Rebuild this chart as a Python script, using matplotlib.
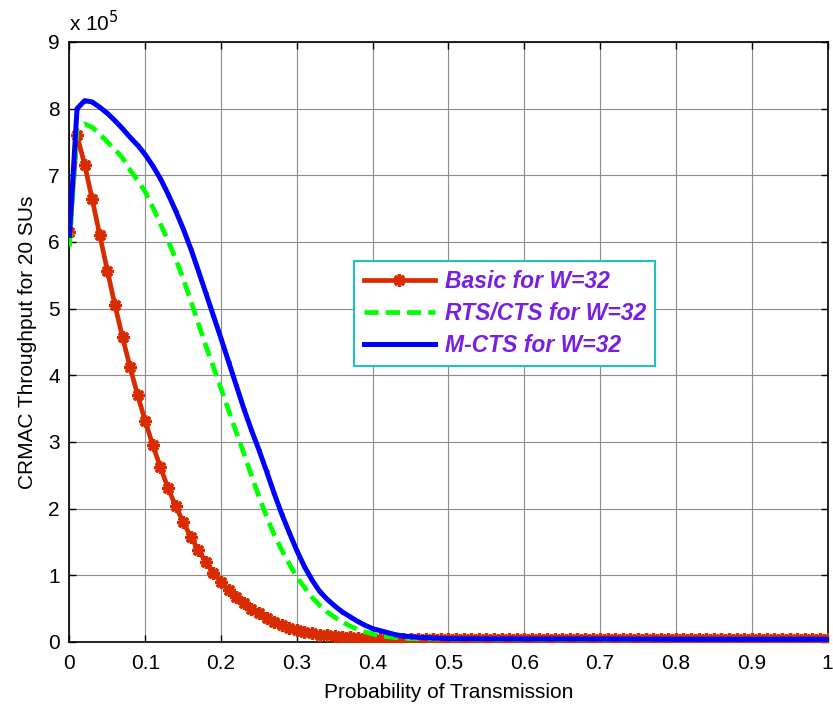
import numpy as np
import matplotlib
matplotlib.use("Agg")
import matplotlib.pyplot as plt
from matplotlib.ticker import FuncFormatter

plt.rcParams['font.family'] = ['Liberation Sans', 'DejaVu Sans']

# throughput values in units of 1e5
x_basic = np.round(np.arange(0, 1.001, 0.01), 2)
basic = [6.15, 7.60, 7.16, 6.64, 6.10, 5.57, 5.05, 4.57, 4.12, 3.70,
         3.31, 2.95, 2.62, 2.31, 2.04, 1.80, 1.58, 1.38, 1.20, 1.04,
         0.90, 0.78, 0.67, 0.58, 0.50, 0.43, 0.36, 0.30, 0.25, 0.21,
         0.18, 0.15, 0.13, 0.11, 0.10, 0.09, 0.08, 0.07, 0.06, 0.055,
         0.05, 0.05, 0.045, 0.045, 0.04, 0.04, 0.04, 0.04, 0.04, 0.04,
         0.04, 0.04, 0.04, 0.04, 0.04, 0.04, 0.04, 0.04, 0.04, 0.04,
         0.04, 0.04, 0.04, 0.04, 0.04, 0.04, 0.04, 0.04, 0.04, 0.04,
         0.04, 0.04, 0.04, 0.04, 0.04, 0.04, 0.04, 0.04, 0.04, 0.04,
         0.04, 0.04, 0.04, 0.04, 0.04, 0.04, 0.04, 0.04, 0.04, 0.04,
         0.04, 0.04, 0.04, 0.04, 0.04, 0.04, 0.04, 0.04, 0.04, 0.04,
         0.04]

x_rts = [0.00, 0.01, 0.02, 0.03, 0.04, 0.05, 0.06, 0.07, 0.08, 0.09,
         0.10, 0.11, 0.12, 0.13, 0.14, 0.15, 0.16, 0.17, 0.18, 0.19,
         0.20, 0.21, 0.22, 0.23, 0.24, 0.25, 0.26, 0.27, 0.28, 0.29,
         0.30, 0.31, 0.32, 0.33, 0.34, 0.35, 0.36, 0.37, 0.38, 0.39,
         0.40, 0.41, 0.42, 0.43, 0.44, 0.45, 0.50, 0.60, 0.70, 0.80,
         0.90, 1.00]
rts = [5.93, 7.72, 7.77, 7.72, 7.62, 7.50, 7.39, 7.26, 7.08, 6.92,
       6.75, 6.52, 6.27, 6.02, 5.75, 5.45, 5.12, 4.78, 4.44, 4.12,
       3.80, 3.47, 3.15, 2.83, 2.50, 2.18, 1.88, 1.61, 1.38, 1.17,
       0.97, 0.82, 0.67, 0.55, 0.45, 0.37, 0.30, 0.24, 0.19, 0.15,
       0.12, 0.09, 0.08, 0.065, 0.055, 0.05, 0.045, 0.04, 0.04, 0.04,
       0.04, 0.04]

x_mcts = [0.00, 0.01, 0.02, 0.03, 0.04, 0.05, 0.06, 0.07, 0.08, 0.09,
          0.10, 0.11, 0.12, 0.13, 0.14, 0.15, 0.16, 0.17, 0.18, 0.19,
          0.20, 0.21, 0.22, 0.23, 0.24, 0.25, 0.26, 0.27, 0.28, 0.29,
          0.30, 0.31, 0.32, 0.33, 0.34, 0.35, 0.36, 0.37, 0.38, 0.39,
          0.40, 0.41, 0.42, 0.43, 0.44, 0.45, 0.46, 0.47, 0.48, 0.49,
          0.50, 0.60, 0.70, 0.80, 0.90, 1.00]
mcts = [6.10, 8.00, 8.12, 8.10, 8.02, 7.93, 7.82, 7.70, 7.57, 7.45,
        7.31, 7.14, 6.95, 6.72, 6.47, 6.20, 5.90, 5.57, 5.23, 4.89,
        4.55, 4.20, 3.85, 3.50, 3.18, 2.88, 2.56, 2.23, 1.92, 1.64,
        1.37, 1.13, 0.93, 0.76, 0.64, 0.54, 0.45, 0.38, 0.31, 0.25,
        0.20, 0.17, 0.14, 0.11, 0.09, 0.08, 0.07, 0.065, 0.06, 0.055,
        0.05, 0.045, 0.045, 0.04, 0.04, 0.04]

labels = ['Basic for W=32', 'RTS/CTS for W=32', 'M-CTS for W=32']
scale = 1e5

fig = plt.figure(figsize=(8.33, 7.09), dpi=100)
ax = fig.add_axes([0.0834, 0.0945, 0.9100, 0.8463])

ax.plot(x_basic, np.array(basic) * scale, '-', color='#D92B00', lw=3.4,
        marker=(8, 2, 0), markersize=9, markeredgewidth=2.4,
        label=labels[0], zorder=3)
ax.plot(x_rts, np.array(rts) * scale, '--', color='#00FF00', lw=3.4,
        dashes=(3, 1.5), label=labels[1], zorder=3)
ax.plot(x_mcts, np.array(mcts) * scale, '-', color='#0000FF', lw=3.6,
        marker='.', markersize=4, label=labels[2], zorder=4)

ax.set_xlim(0, 1)
ax.set_ylim(0, 9e5)
ax.set_xticks(np.arange(0, 1.01, 0.1))
ax.set_yticks(np.arange(0, 9.01, 1) * scale)
ax.xaxis.set_major_formatter(FuncFormatter(lambda v, p: '%g' % round(v, 1)))
ax.yaxis.set_major_formatter(FuncFormatter(lambda v, p: '%g' % (v / scale)))
ax.tick_params(axis='x', pad=9)
ax.tick_params(direction='in', top=True, right=True, length=5, width=1,
               labelsize=15)
ax.tick_params(axis='y', pad=7)
ax.grid(True, color='#8c8c8c', lw=0.8)
for s in ax.spines.values():
    s.set_linewidth(1.2)

ax.set_xlabel('Probability of Transmission', fontsize=15, labelpad=7)
ax.set_ylabel('CRMAC Throughput for 20 SUs', fontsize=15, labelpad=8)
ax.text(0.0, 1.012, r'x 10$^5$', transform=ax.transAxes, fontsize=15,
        ha='left', va='bottom')

leg = ax.legend(loc='upper left', bbox_to_anchor=(0.376, 0.635),
                borderaxespad=0, fancybox=False, handlelength=3.1,
                handletextpad=0.45, labelspacing=0.38, borderpad=0.4,
                prop={'size': 16.5, 'weight': 'bold', 'style': 'italic'})
leg.get_frame().set_edgecolor('#22C0C0')
leg.get_frame().set_linewidth(1.5)
leg.get_frame().set_alpha(1)
for t in leg.get_texts():
    t.set_color('#7A1EE0')

fig.savefig('out.png', dpi=100)
